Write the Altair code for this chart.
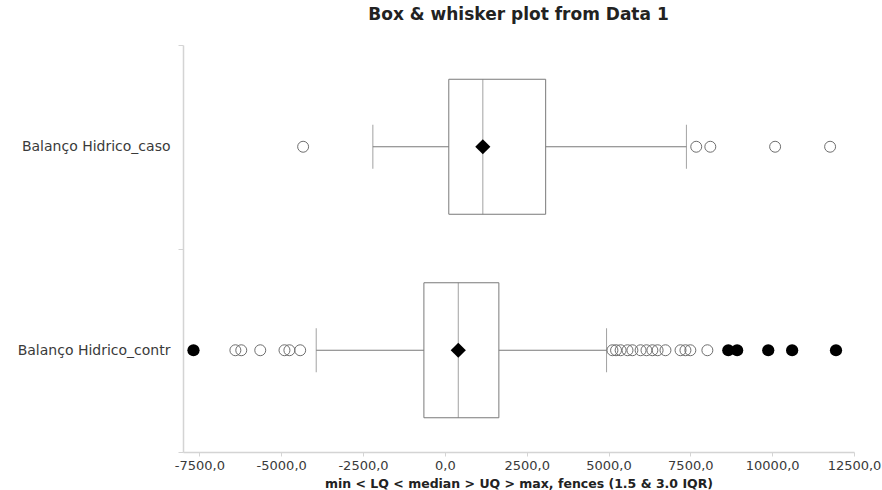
import altair as alt
import pandas as pd

# Summary statistics per group
groups = ["Balanço Hidrico_caso", "Balanço Hidrico_contr"]
lower_whisker = [-2200, -3930]
q1 = [120, -640]
median = [1160, 410]
q3 = [3080, 1650]
upper_whisker = [7380, 4940]
mean = [1160, 410]

# Points beyond the 1.5 IQR fences
caso_outliers = [-4330, 7680, 8110, 10090, 11770]
contr_outliers = [-7680, -6400, -6220, -5640, -4900, -4750, -4420,
                  5120, 5230, 5370, 5580, 5730, 5980, 6160, 6340, 6500,
                  6740, 7200, 7350, 7500, 8020,
                  8660, 8930, 9880, 10610, 11950]

x_ticks = [-7500, -5000, -2500, 0, 2500, 5000, 7500, 10000, 12500]

stats = pd.DataFrame({
    "group": groups, "lo": lower_whisker, "q1": q1, "med": median,
    "q3": q3, "hi": upper_whisker, "mean": mean,
})

rows = []
for g, vals, a, b in [(groups[0], caso_outliers, q1[0], q3[0]),
                      (groups[1], contr_outliers, q1[1], q3[1])]:
    iqr = b - a
    for v in vals:
        extreme = v < a - 3 * iqr or v > b + 3 * iqr
        rows.append({"group": g, "value": v, "kind": "extreme" if extreme else "outlier"})
points = pd.DataFrame(rows)

FONT = "DejaVu Sans"
LINE = "#7a7a7a"

y_enc = alt.Y(
    "group:N",
    sort=groups,
    scale=alt.Scale(domain=groups, paddingInner=0, paddingOuter=0),
    axis=alt.Axis(
        title=None, tickBand="extent", tickSize=5, labelPadding=8,
        labelFont=FONT, labelFontSize=14, labelColor="#3a3a3a",
        domainColor="#d4d4d4", domainWidth=1.5, tickColor="#d4d4d4",
        labelLimit=300,
    ),
)

x_scale = alt.Scale(domain=[-8000, 12500], nice=False, zero=False)
x_axis = alt.Axis(
    title="min < LQ < median > UQ > max, fences (1.5 & 3.0 IQR)",
    titleFont=FONT, titleFontSize=12.5, titleFontWeight="bold", titleColor="#222222",
    titlePadding=5,
    values=x_ticks, grid=False, labelFlush=False, labelOverlap=False,
    labelExpr="(datum.value < 0 ? '-' : '') + replace(format(abs(datum.value), '.1f'), '.', ',')",
    labelFont=FONT, labelFontSize=13, labelColor="#3a3a3a", labelPadding=3,
    domainColor="#d4d4d4", domainWidth=1.5, tickColor="#d4d4d4", tickSize=4,
)

base = alt.Chart(stats)

whisker = base.mark_rule(color=LINE, strokeWidth=1).encode(
    x=alt.X("lo:Q", scale=x_scale, axis=x_axis), x2="hi:Q", y=y_enc
)
caps_lo = base.mark_tick(color=LINE, size=44, thickness=1).encode(
    x=alt.X("lo:Q", scale=x_scale), y=y_enc
)
caps_hi = base.mark_tick(color=LINE, size=44, thickness=1).encode(
    x=alt.X("hi:Q", scale=x_scale), y=y_enc
)
box = base.mark_bar(size=135, fill="white", stroke=LINE, strokeWidth=1).encode(
    x=alt.X("q1:Q", scale=x_scale), x2="q3:Q", y=y_enc
)
med = base.mark_tick(color=LINE, size=135, thickness=1).encode(
    x=alt.X("med:Q", scale=x_scale), y=y_enc
)
mean_pt = base.mark_point(shape="diamond", filled=True, color="black", size=230, opacity=1).encode(
    x=alt.X("mean:Q", scale=x_scale), y=y_enc
)

open_pts = alt.Chart(points).transform_filter("datum.kind == 'outlier'").mark_point(
    shape="circle", filled=False, stroke="#6e6e6e", strokeWidth=1, size=120, opacity=1
).encode(x=alt.X("value:Q", scale=x_scale), y=y_enc)

filled_pts = alt.Chart(points).transform_filter("datum.kind == 'extreme'").mark_point(
    shape="circle", filled=True, color="black", size=150, opacity=1
).encode(x=alt.X("value:Q", scale=x_scale), y=y_enc)

chart = alt.layer(
    whisker, caps_lo, caps_hi, box, med, mean_pt, open_pts, filled_pts
).properties(
    width=671,
    height=407,
    autosize=alt.AutoSizeParams(type="none"),
    padding={"left": 183, "top": 45, "right": 28, "bottom": 38},
    title=alt.Title(
        "Box & whisker plot from Data 1",
        font=FONT, fontSize=17, fontWeight="bold", color="#222222",
        anchor="middle", offset=14,
    ),
    background="white",
).configure_view(strokeWidth=0)

chart.save("out.html", embed_options={"renderer": "svg", "actions": False})
